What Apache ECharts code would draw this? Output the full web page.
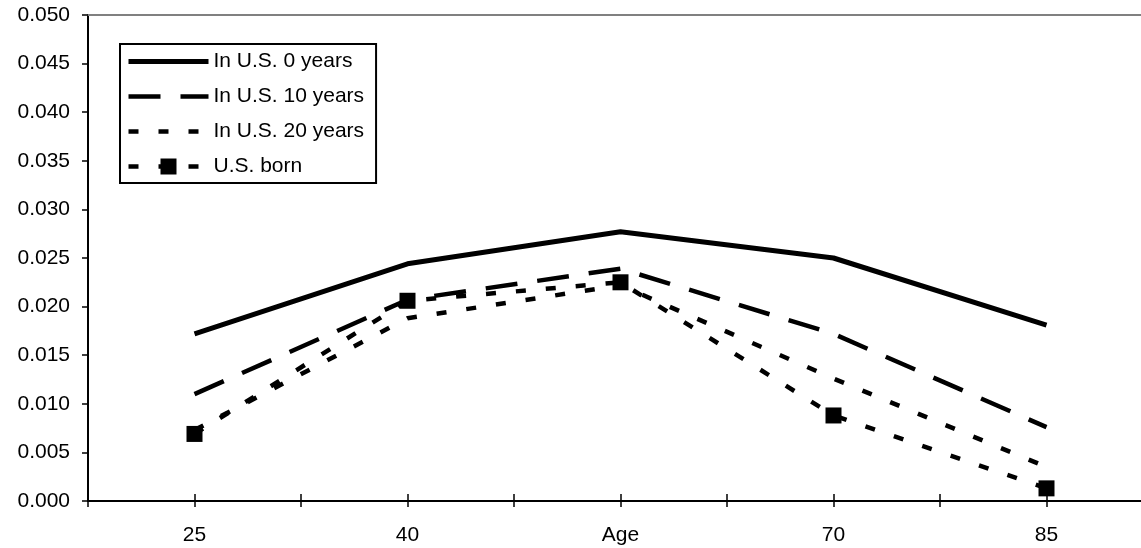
<!DOCTYPE html>
<html>
<head>
<meta charset="utf-8">
<script src="https://cdn.jsdelivr.net/npm/echarts@6/dist/echarts.min.js"></script>
<style>html,body{margin:0;padding:0;background:#fff}#c{width:1141px;height:548px}</style>
</head>
<body>
<div id="c"></div>
<script>
const categories = ['25', '40', 'Age', '70', '85'];
const seriesNames = ['In U.S. 0 years', 'In U.S. 10 years', 'In U.S. 20 years', 'U.S. born'];
const years0 = [0.0172, 0.0244, 0.0277, 0.0250, 0.0181];
const years10 = [0.0110, 0.0207, 0.0239, 0.0172, 0.0076];
const years20 = [0.0073, 0.0188, 0.0222, 0.0126, 0.0035];
const usBorn = [0.0069, 0.0206, 0.0225, 0.0088, 0.0013];
const yMin = 0, yMax = 0.05, yInterval = 0.005;

const FONT = '"Liberation Sans", Arial, sans-serif';
const gp = { left: 88, right: -12, top: 15, bottom: 47, outerBoundsMode: 'none' };
const hiddenY = i => ({ type: 'value', gridIndex: i, min: yMin, max: yMax, interval: yInterval, show: false });
const tickAxis = (i, inside, align, len) => ({
  type: 'category', gridIndex: i, position: 'bottom', data: categories, boundaryGap: true,
  axisLine: { show: false },
  axisTick: { show: true, inside: inside, alignWithLabel: align, length: len, lineStyle: { color: '#000', width: 1.5 } },
  axisLabel: { show: false }, splitLine: { show: false }
});

const styles = [
  { width: 5, type: 'solid', symbol: 'none' },
  { width: 4.5, type: [32, 20], symbol: 'none' },
  { width: 4.5, type: [10, 20], symbol: 'none' },
  { width: 4.5, type: [10, 20], symbol: 'rect' }
];
const dataSets = [years0, years10, years20, usBorn];

const legendData = seriesNames.map((n, i) => ({
  name: n,
  itemStyle: styles[i].symbol === 'none'
    ? { color: 'rgba(0,0,0,0)', borderWidth: 0, opacity: 0 }
    : { color: '#000', borderWidth: 0 },
  lineStyle: { color: '#000', width: styles[i].width, type: styles[i].type, opacity: 1 }
}));

const chart = echarts.init(document.getElementById('c'));
chart.setOption({
  animation: false,
  backgroundColor: '#fff',
  grid: [Object.assign({}, gp), Object.assign({}, gp), Object.assign({}, gp), Object.assign({}, gp)],
  legend: {
    orient: 'vertical', left: 120, top: 44,
    padding: [7, 12, 6, 6], itemWidth: 80, itemHeight: 20, itemGap: 14,
    backgroundColor: '#fff', borderColor: '#000', borderWidth: 2, borderRadius: 0,
    textStyle: { fontFamily: FONT, fontSize: 21, color: '#000', lineHeight: 20 },
    data: legendData
  },
  xAxis: [
    {
      type: 'category', gridIndex: 0, position: 'bottom', data: categories, boundaryGap: true,
      axisLine: { show: true, lineStyle: { color: '#000', width: 2 } },
      axisTick: { show: true, inside: false, length: 6, lineStyle: { color: '#000', width: 1.5 } },
      axisLabel: { show: true, fontFamily: FONT, fontSize: 21, color: '#000', margin: 24 },
      splitLine: { show: false }
    },
    {
      type: 'category', gridIndex: 0, position: 'top', data: categories, boundaryGap: true,
      axisLine: { show: true, lineStyle: { color: '#808080', width: 2 } },
      axisTick: { show: false }, axisLabel: { show: false }, splitLine: { show: false }
    },
    tickAxis(1, true, false, 7),
    tickAxis(2, false, true, 6),
    tickAxis(3, true, true, 7)
  ],
  yAxis: [
    {
      type: 'value', gridIndex: 0, min: yMin, max: yMax, interval: yInterval,
      axisLine: { show: true, lineStyle: { color: '#000', width: 2 } },
      axisTick: { show: true, inside: false, length: 6, lineStyle: { color: '#000', width: 1.5 } },
      axisLabel: { fontFamily: FONT, fontSize: 21, color: '#000', margin: 18, formatter: v => v.toFixed(3) },
      splitLine: { show: false }
    },
    hiddenY(1), hiddenY(2), hiddenY(3)
  ],
  series: seriesNames.map((n, i) => ({
    name: n, type: 'line', data: dataSets[i], xAxisIndex: 0, yAxisIndex: 0,
    symbol: styles[i].symbol, symbolSize: 16, itemStyle: { color: '#000' },
    lineStyle: { color: '#000', width: styles[i].width, type: styles[i].type, join: 'round' }
  }))
});
</script>
</body>
</html>
